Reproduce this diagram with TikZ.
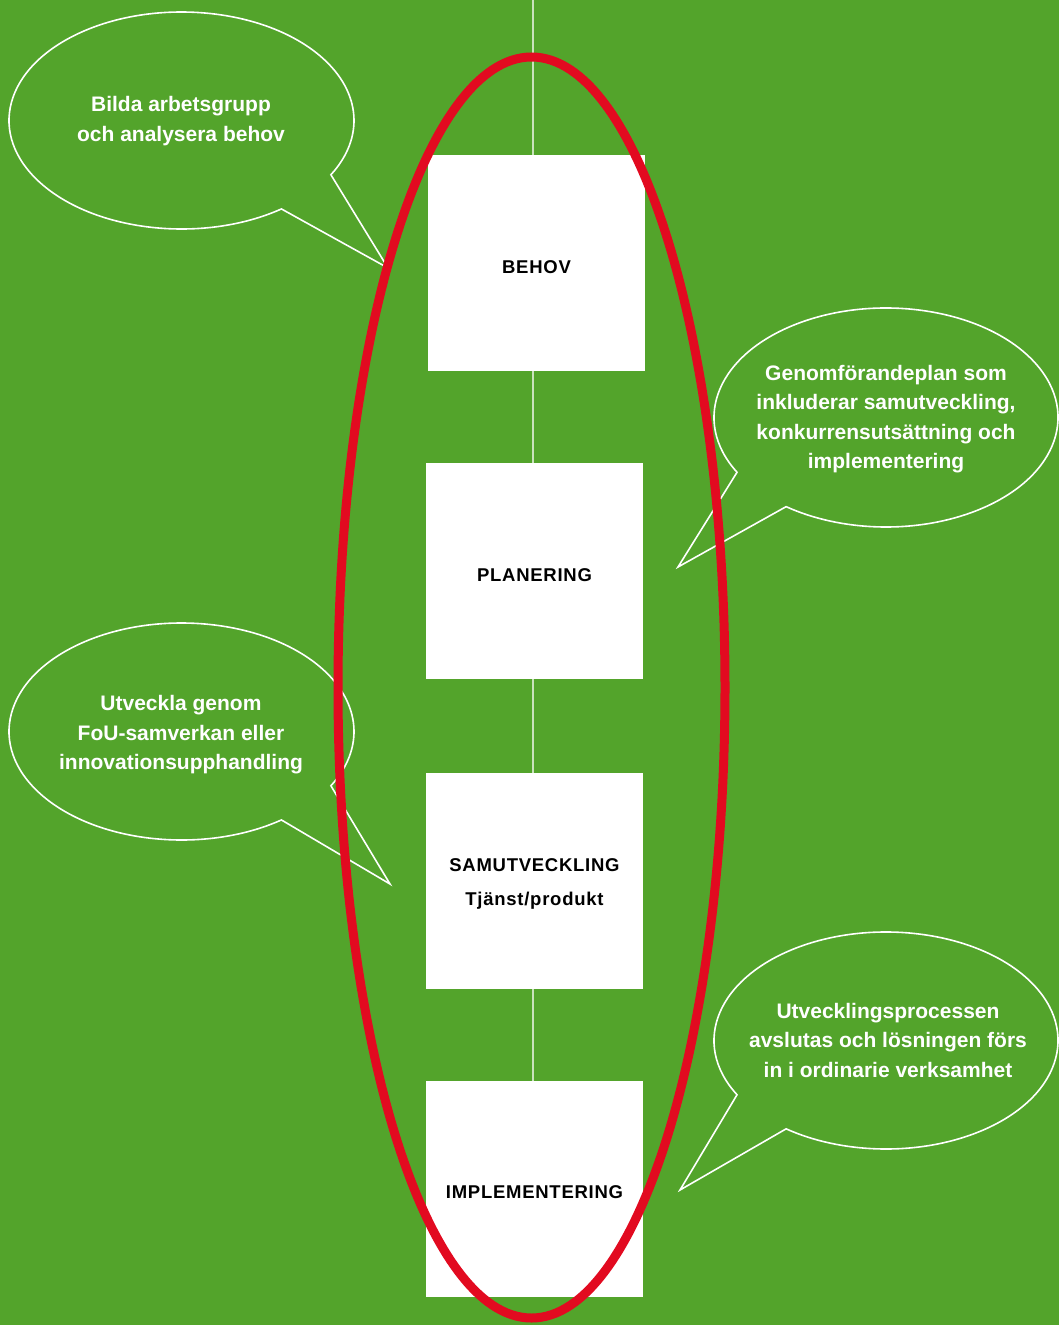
\documentclass[tikz,border=0pt]{standalone}
\usepackage{fontspec}
\setmainfont{Liberation Sans}
\newfontfamily\lblfont[LetterSpace=4]{Liberation Sans}
\definecolor{bggreen}{HTML}{53A42B}
\definecolor{ringred}{HTML}{E20A20}
\definecolor{stemline}{HTML}{C9E2BC}
\begin{document}
\begin{tikzpicture}[x=1pt,y=-1pt,
  stage/.style={fill=white,draw=none,minimum width=217pt,minimum height=216pt,inner sep=0pt},
  stagelabel/.style={font=\lblfont\bfseries\fontsize{18.5}{34}\selectfont,align=center,text=black,inner sep=0pt},
  bubble/.style={draw=white,line width=1.6pt,line join=miter},
  bubbletext/.style={text=white,font=\bfseries\fontsize{21}{29.5}\selectfont,align=center},
  stem/.style={draw=stemline,line width=2.5pt}]
\fill[bggreen] (0,0) rectangle (1059,1325);
\useasboundingbox (0,0) rectangle (1059,1325);

% stages
\coordinate (top) at (533,0);
\node[stage] (behov) at (536.5,263) {};
\node[stage] (planering) at (534.5,571) {};
\node[stage] (samutv) at (534.5,881) {};
\node[stage] (impl) at (534.5,1189) {};
\node[stagelabel] (behovlbl) at ([yshift=-4pt]behov.center) {BEHOV};
\node[stagelabel] (planlbl) at ([yshift=-4pt]planering.center) {PLANERING};
\node[stagelabel] (samlbl) at ([yshift=-3pt]samutv.center) {SAMUTVECKLING\\Tjänst/produkt};
\node[stagelabel] (impllbl) at ([yshift=-3pt]impl.center) {IMPLEMENTERING};

% stem line
\draw[stem] (top) -- (top |- behov.north);
\draw[stem] (behov.south -| top) -- (planering.north -| top);
\draw[stem] (planering.south -| top) -- (samutv.north -| top);
\draw[stem] (samutv.south -| top) -- (impl.north -| top);

% callouts
\coordinate (c1) at (181.5,120.5);
\coordinate (t1) at (388,268);
\draw[bubble] (c1) ++(-54.6:172.5pt and 108.5pt)
  arc[start angle=-54.6,end angle=-390,x radius=172.5pt,y radius=108.5pt] -- (t1) -- cycle;
\node[bubbletext] (b1) at (181,121) {Bilda arbetsgrupp\\och analysera behov};

\coordinate (c2) at (886,417.5);
\coordinate (t2) at (678,567);
\draw[bubble] (c2) ++(-150:172pt and 109.5pt)
  arc[start angle=-150,end angle=-485.5,x radius=172pt,y radius=109.5pt] -- (t2) -- cycle;
\node[bubbletext] (b2) at (886,419) {Genomförandeplan som\\inkluderar samutveckling,\\konkurrensutsättning och\\implementering};

\coordinate (c3) at (181.5,731.5);
\coordinate (t3) at (390,884);
\draw[bubble] (c3) ++(-54.6:172.5pt and 108.5pt)
  arc[start angle=-54.6,end angle=-390,x radius=172.5pt,y radius=108.5pt] -- (t3) -- cycle;
\node[bubbletext] (b3) at (181,735) {Utveckla genom\\FoU-samverkan eller\\innovationsupphandling};

\coordinate (c4) at (886,1040.5);
\coordinate (t4) at (680,1190);
\draw[bubble] (c4) ++(-150:172pt and 108.5pt)
  arc[start angle=-150,end angle=-485.5,x radius=172pt,y radius=108.5pt] -- (t4) -- cycle;
\node[bubbletext] (b4) at (888,1040) {Utvecklingsprocessen\\avslutas och lösningen förs\\in i ordinarie verksamhet};

% red ring
\coordinate (ringc) at (531.5,687.5);
\draw[ringred,line width=9pt] (ringc) ellipse [x radius=193.5pt,y radius=630.5pt];
\end{tikzpicture}
\end{document}
